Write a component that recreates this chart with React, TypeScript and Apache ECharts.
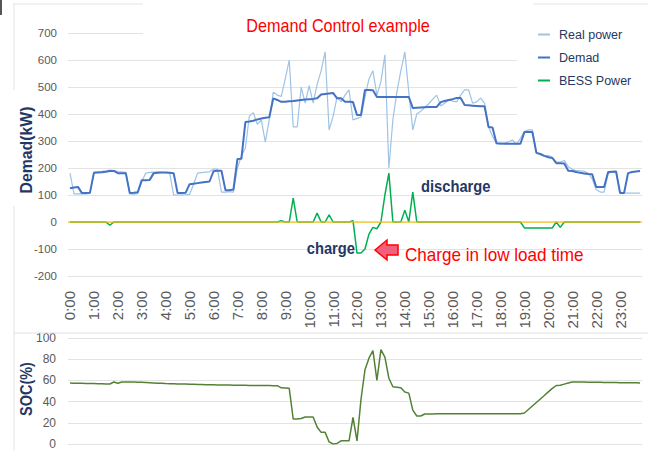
import React, { useEffect, useRef } from "react";
import * as echarts from "echarts";

// 10-minute samples over one day (144 points)
const times: string[] = Array.from({ length: 144 }, (_, i) =>
  `${Math.floor(i / 6)}:${String((i % 6) * 10).padStart(2, "0")}`
);

const realPower = [
  181, 104, 104, 105, 104, 106, 185, 186, 188, 189, 192, 190,
  187, 186, 184, 104, 103, 105, 150, 181, 184, 185, 186, 184,
  183, 182, 100, 100, 100, 101, 102, 140, 181, 183, 185, 186,
  196, 196, 111, 111, 112, 111, 200, 245, 274, 392, 405, 362,
  378, 296, 380, 481, 470, 465, 530, 600, 352, 352, 500, 440,
  505, 440, 510, 560, 630, 341, 390, 463, 445, 470, 489, 378,
  384, 389, 463, 530, 560, 470, 520, 619, 200, 378, 481, 560,
  630, 480, 341, 400, 410, 425, 438, 455, 470, 430, 440, 452,
  448, 445, 470, 489, 489, 440, 445, 459, 440, 352, 318, 290,
  288, 292, 297, 304, 287, 310, 335, 341, 341, 259, 248, 244,
  246, 240, 222, 222, 228, 205, 195, 190, 189, 188, 180, 160,
  120, 111, 111, 180, 185, 185, 111, 108, 107, 107, 107, 107,
];

const demand = [
  125, 128, 130, 107, 107, 108, 182, 183, 184, 186, 189, 189,
  181, 181, 181, 107, 108, 110, 155, 155, 156, 181, 182, 183,
  183, 182, 181, 107, 107, 108, 140, 142, 144, 146, 148, 150,
  188, 190, 190, 118, 118, 120, 233, 234, 370, 372, 375, 380,
  383, 386, 388, 458, 452, 445, 445, 447, 448, 450, 452, 454,
  455, 456, 458, 472, 474, 476, 478, 458, 458, 445, 445, 444,
  396, 396, 489, 489, 488, 463, 463, 463, 463, 463, 463, 463,
  463, 463, 422, 423, 424, 425, 426, 426, 426, 444, 448, 452,
  455, 459, 459, 433, 432, 431, 430, 429, 429, 352, 350, 292,
  291, 290, 290, 290, 290, 290, 333, 333, 333, 256, 252, 245,
  240, 237, 218, 218, 217, 190, 189, 185, 182, 180, 178, 177,
  130, 130, 130, 185, 186, 187, 107, 107, 181, 185, 187, 189,
];

const bessPower = [
  0, 0, 0, 0, 0, 0, 0, 0, 0, 0, -12, 0,
  0, 0, 0, 0, 0, 0, 0, 0, 0, 0, 0, 0,
  0, 0, 0, 0, 0, 0, 0, 0, 0, 0, 0, 0,
  0, 0, 0, 0, 0, 0, 0, 0, 0, 0, 0, 0,
  0, 0, 0, 0, 0, 5, 0, 0, 88, 0, 0, 0,
  0, 0, 33, 0, 0, 26, 0, 0, 0, 0, 0, 5,
  -115, -115, -100, -45, -20, -25, 0, 100, 181, 0, 0, 0,
  44, 0, 111, 0, 0, 0, 0, 0, 0, 0, 0, 0,
  0, 0, 0, 0, 0, 0, 0, 0, 0, 0, 0, 0,
  0, 0, 0, 0, 0, 0, -22, -22, -22, -22, -22, -22,
  -22, -22, 0, -20, 0, 0, 0, 0, 0, 0, 0, 0,
  0, 0, 0, 0, 0, 0, 0, 0, 0, 0, 0, 0,
];

const soc = [
  57.5, 57.4, 57.3, 57.2, 57.1, 57.0, 57.0, 56.9, 56.8, 56.7, 56.6, 58.5,
  57.3, 58.5, 58.5, 58.5, 58.4, 58.3, 58.2, 58.0, 57.8, 57.6, 57.4, 57.2,
  57.0, 56.9, 56.8, 56.7, 56.6, 56.5, 56.4, 56.3, 56.2, 56.1, 56.0, 55.9,
  55.8, 55.7, 55.7, 55.6, 55.6, 55.5, 55.5, 55.4, 55.4, 55.3, 55.3, 55.2,
  55.2, 55.1, 55.1, 55.0, 55.0, 53.0, 52.8, 52.5, 23.6, 23.6, 24.0, 25.5,
  25.5, 25.5, 16.0, 11.0, 11.0, 2.0, 0, 0.5, 3.0, 3.0, 3.0, 25.0,
  3.0, 42.0, 70.0, 81.0, 88.0, 60.0, 89.0, 82.0, 62.0, 54.0, 53.5, 53.0,
  49.0, 48.0, 32.0, 26.4, 26.4, 28.3, 28.4, 28.4, 28.5, 28.5, 28.5, 28.5,
  28.5, 28.5, 28.5, 28.5, 28.5, 28.5, 28.5, 28.5, 28.5, 28.5, 28.5, 28.5,
  28.5, 28.5, 28.5, 28.5, 28.5, 28.5, 29.3, 32.6, 35.9, 39.2, 42.5, 45.8,
  49.2, 52.5, 55.2, 55.5, 56.5, 57.5, 58.5, 58.5, 58.4, 58.4, 58.3, 58.3,
  58.2, 58.2, 58.1, 58.1, 58.0, 58.0, 57.9, 57.9, 57.8, 57.7, 57.7, 57.6,
];

const legendNames = ["Real power", "Demad", "BESS Power"];

const FONT = "'Liberation Sans', Arial, sans-serif";
const NAVY = "#1f3864";
const GRAY = "#595959";
const GRID_LINE = "#e3e3e3";

export default function App() {
  const ref = useRef<HTMLDivElement>(null);

  useEffect(() => {
    if (!ref.current) return;
    const chart = echarts.init(ref.current, undefined, { renderer: "svg" });

    const option: any = {
      animation: false,
      backgroundColor: "#ffffff",
      textStyle: { fontFamily: FONT },
      grid: [
        { left: 68, top: 33, width: 574, height: 243, outerBoundsMode: "none" },
        { left: 68, top: 338, width: 574, height: 106, outerBoundsMode: "none" },
      ],
      xAxis: [
        {
          type: "category",
          gridIndex: 0,
          data: times,
          boundaryGap: true,
          axisLine: { show: false },
          axisTick: { show: false },
          splitLine: { show: false },
          axisLabel: {
            interval: 5,
            rotate: 90,
            margin: 15,
            color: GRAY,
            fontSize: 15,
            fontFamily: FONT,
          },
        },
        {
          type: "category",
          gridIndex: 1,
          data: times,
          boundaryGap: true,
          axisLine: { show: false },
          axisTick: { show: false },
          splitLine: { show: false },
          axisLabel: { show: false },
        },
      ],
      yAxis: [
        {
          type: "value",
          gridIndex: 0,
          min: -200,
          max: 700,
          interval: 100,
          axisLine: { show: false },
          axisTick: { show: false },
          axisLabel: { color: GRAY, fontSize: 11.5, margin: 11, fontFamily: FONT },
          splitLine: { lineStyle: { color: GRID_LINE, width: 1 } },
        },
        {
          type: "value",
          gridIndex: 1,
          min: 0,
          max: 100,
          interval: 20,
          axisLine: { show: false },
          axisTick: { show: false },
          axisLabel: { color: GRAY, fontSize: 12, margin: 12, fontFamily: FONT },
          splitLine: { lineStyle: { color: GRID_LINE, width: 1 } },
        },
      ],
      legend: {
        orient: "vertical",
        left: 533,
        top: 23,
        icon: "rect",
        itemWidth: 12,
        itemHeight: 2,
        itemGap: 10,
        data: legendNames,
        textStyle: { color: NAVY, fontSize: 12.5, fontFamily: FONT, padding: [0, 0, 0, 4] },
        z: 6,
      },
      series: [
        {
          name: "Real power",
          type: "line",
          xAxisIndex: 0,
          yAxisIndex: 0,
          data: realPower,
          showSymbol: false,
          color: "#9dc3e6",
          lineStyle: { color: "#9dc3e6", width: 1.2 },
          z: 2,
        },
        {
          name: "Demad",
          type: "line",
          xAxisIndex: 0,
          yAxisIndex: 0,
          data: demand,
          showSymbol: false,
          color: "#4472c4",
          lineStyle: { color: "#4472c4", width: 2 },
          z: 3,
        },
        {
          name: "BESS Power",
          type: "line",
          xAxisIndex: 0,
          yAxisIndex: 0,
          data: bessPower,
          showSymbol: false,
          color: "#00b050",
          lineStyle: { color: "#00b050", width: 1.5 },
          z: 4,
        },
        {
          name: "zero",
          type: "line",
          xAxisIndex: 0,
          yAxisIndex: 0,
          data: [],
          showSymbol: false,
          z: 5,
          markLine: {
            silent: true,
            symbol: ["none", "none"],
            label: { show: false },
            lineStyle: { color: "#ffc000", width: 2, type: "solid", opacity: 0.6 },
            data: [{ yAxis: 0 }],
          },
        },
        {
          name: "SOC",
          type: "line",
          xAxisIndex: 1,
          yAxisIndex: 1,
          data: soc,
          showSymbol: false,
          color: "#548235",
          lineStyle: { color: "#548235", width: 1.5 },
          z: 3,
        },
      ],
      graphic: [
        // outer frame pieces
        { type: "line", z: 1, shape: { x1: 13, y1: 4, x2: 648, y2: 4 }, style: { stroke: "#e4e4e4", lineWidth: 1 } },
        { type: "line", z: 1, shape: { x1: 14, y1: 4, x2: 14, y2: 451 }, style: { stroke: "#e4e4e4", lineWidth: 1 } },
        { type: "line", z: 1, shape: { x1: 14, y1: 333, x2: 648, y2: 333 }, style: { stroke: "#e0e0e0", lineWidth: 1 } },
        { type: "rect", z: 1, shape: { x: 0, y: 0, width: 2, height: 15 }, style: { fill: "#555555" } },
        // white boxes behind title / legend / axis title
        { type: "rect", z: 1, shape: { x: 143, y: 2, width: 390, height: 44 }, style: { fill: "#ffffff" } },
        { type: "rect", z: 1, shape: { x: 517, y: 6, width: 131, height: 120 }, style: { fill: "#ffffff" } },
        { type: "rect", z: 1, shape: { x: 4, y: 90, width: 32, height: 116 }, style: { fill: "#ffffff" } },
        // chart title
        {
          type: "text",
          z: 10,
          x: 338,
          y: 26,
          scaleX: 0.9,
          style: {
            text: "Demand Control example",
            fill: "#ff0000",
            font: `18px ${FONT}`,
            align: "center",
            verticalAlign: "middle",
          },
        },
        // axis titles
        {
          type: "text",
          z: 10,
          x: 26,
          y: 150,
          rotation: Math.PI / 2,
          scaleX: 0.93,
          style: {
            text: "Demad(kW)",
            fill: NAVY,
            font: `bold 17px ${FONT}`,
            align: "center",
            verticalAlign: "middle",
          },
        },
        {
          type: "text",
          z: 10,
          x: 26,
          y: 389,
          rotation: Math.PI / 2,
          scaleX: 0.85,
          style: {
            text: "SOC(%)",
            fill: NAVY,
            font: `bold 17px ${FONT}`,
            align: "center",
            verticalAlign: "middle",
          },
        },
        // annotations
        {
          type: "text",
          z: 10,
          x: 421,
          y: 186,
          scaleX: 0.92,
          style: {
            text: "discharge",
            fill: NAVY,
            font: `bold 16px ${FONT}`,
            align: "left",
            verticalAlign: "middle",
          },
        },
        {
          type: "text",
          z: 10,
          x: 355,
          y: 248,
          scaleX: 0.92,
          style: {
            text: "charge",
            fill: NAVY,
            font: `bold 16px ${FONT}`,
            align: "right",
            verticalAlign: "middle",
          },
        },
        {
          type: "polygon",
          z: 10,
          shape: {
            points: [
              [375, 250],
              [387, 240],
              [387, 245],
              [398, 245],
              [398, 255],
              [387, 255],
              [387, 260],
            ],
          },
          style: { fill: "#f3607e", stroke: "#ff0000", lineWidth: 1.5 },
        },
        {
          type: "text",
          z: 10,
          x: 405,
          y: 255,
          scaleX: 0.95,
          style: {
            text: "Charge in low load time",
            fill: "#ff0000",
            font: `18px ${FONT}`,
            align: "left",
            verticalAlign: "middle",
          },
        },
      ],
    };

    chart.setOption(option);
    return () => chart.dispose();
  }, []);

  return (
    <div
      ref={ref}
      style={{ position: "fixed", left: 0, top: 0, width: 648, height: 451, background: "#fff" }}
    />
  );
}
